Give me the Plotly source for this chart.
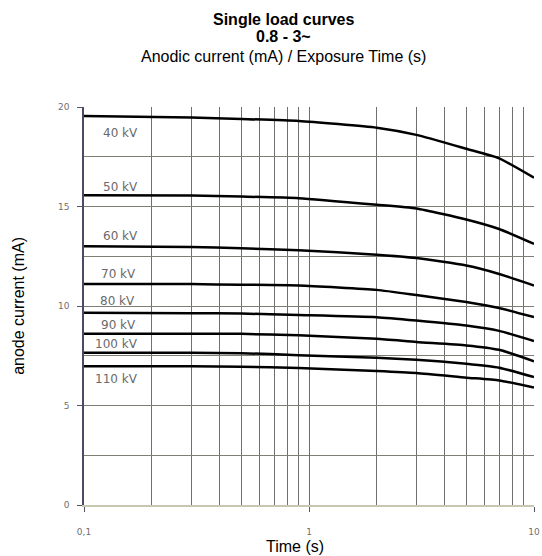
import math
import plotly.graph_objects as go

# ---- data ----
time_s = [0.1, 0.3, 0.5, 0.9, 2, 3, 5, 7, 10]
kv_labels = ["40 kV", "50 kV", "60 kV", "70 kV", "80 kV", "90 kV", "100 kV", "110 kV"]
curve_40 = [19.55, 19.47, 19.40, 19.30, 18.96, 18.60, 17.90, 17.42, 16.45]
curve_50 = [15.57, 15.55, 15.50, 15.42, 15.09, 14.90, 14.35, 13.87, 13.12]
curve_60 = [13.00, 12.97, 12.90, 12.80, 12.58, 12.41, 12.03, 11.61, 11.03]
curve_70 = [11.11, 11.10, 11.07, 11.03, 10.81, 10.55, 10.20, 9.90, 9.44]
curve_80 = [9.66, 9.64, 9.62, 9.55, 9.44, 9.27, 9.02, 8.75, 8.24]
curve_90 = [8.60, 8.60, 8.60, 8.53, 8.35, 8.19, 8.02, 7.80, 7.22]
curve_100 = [7.65, 7.65, 7.63, 7.53, 7.40, 7.30, 7.10, 6.90, 6.43]
curve_110 = [6.97, 6.97, 6.95, 6.88, 6.73, 6.63, 6.40, 6.26, 5.90]
curves = [curve_40, curve_50, curve_60, curve_70, curve_80, curve_90, curve_100, curve_110]
label_y = [18.7, 16.0, 13.5, 11.6, 10.25, 9.07, 8.11, 6.31]
label_x = [0.145, 0.145, 0.145, 0.143, 0.141, 0.143, 0.139, 0.139]
x_tickvals = [0.1, 1, 10]
x_ticktext = ["0,1", "1", "10"]
y_tickvals = [0, 5, 10, 15, 20]

fig = go.Figure()
for name, ys in zip(kv_labels, curves):
    fig.add_trace(go.Scatter(x=time_s, y=ys, mode="lines", name=name,
                             line=dict(color="black", width=2.5, shape="spline", smoothing=0.5),
                             showlegend=False, hoverinfo="skip"))

for name, lx, ly in zip(kv_labels, label_x, label_y):
    fig.add_annotation(x=math.log10(lx), y=ly, xref="x", yref="y", text=name, showarrow=False,
                       font=dict(family="DejaVu Sans", size=12, color="#6a6a6a"),
                       xanchor="center", yanchor="middle")

tick_font = dict(family="DejaVu Sans", size=9, color="#707070")

fig.update_xaxes(type="log", range=[-1, 1], automargin=False,
                 tickvals=x_tickvals, ticktext=x_ticktext,
                 ticks="outside", ticklen=5, tickcolor="#555566",
                 ticklabelstandoff=12, tickfont=tick_font,
                 showgrid=True, gridcolor="#6c6c72", gridwidth=1,
                 minor=dict(dtick="D1", showgrid=True, gridcolor="#707074", gridwidth=1, ticks=""),
                 showline=True, linecolor="#c8c8b0", linewidth=2,
                 zeroline=False)
fig.update_yaxes(range=[0, 20], tickvals=y_tickvals, automargin=False,
                 ticks="outside", ticklen=5, tickcolor="#555566",
                 ticklabelstandoff=6, tickfont=tick_font,
                 showgrid=True, gridcolor="#7e7e72", gridwidth=1,
                 minor=dict(dtick=2.5, showgrid=True, gridcolor="#7e7e72", gridwidth=1, ticks=""),
                 showline=True, linecolor="#4a4a66", linewidth=1.5,
                 zeroline=False)

title_font = dict(family="Liberation Sans", size=16, color="black")
fig.add_annotation(x=0.444, y=1.221, xref="paper", yref="paper", text="<b>Single load curves</b>",
                   showarrow=False, font=title_font, xanchor="center", yanchor="middle")
fig.add_annotation(x=0.444, y=1.176, xref="paper", yref="paper", text="<b>0.8 - 3~</b>",
                   showarrow=False, font=title_font, xanchor="center", yanchor="middle")
fig.add_annotation(x=0.444, y=1.126, xref="paper", yref="paper", text="Anodic current (mA) / Exposure Time (s)",
                   showarrow=False, font=title_font, xanchor="center", yanchor="middle")
fig.add_annotation(x=-0.147, y=0.5, xref="paper", yref="paper", text="anode current (mA)",
                   showarrow=False, font=title_font, textangle=-90, xanchor="center", yanchor="middle")
fig.add_annotation(x=0.469, y=-0.104, xref="paper", yref="paper", text="Time (s)",
                   showarrow=False, font=title_font, xanchor="center", yanchor="middle")

fig.update_layout(width=542, height=556,
                  margin=dict(l=84, r=8, t=107, b=51),
                  paper_bgcolor="white", plot_bgcolor="white")

# remove the default page margin so the figure fills the window exactly
fig.write_html("out.html",
               config={"displayModeBar": False},
               post_script="document.body.style.margin='0';"
                           "document.documentElement.style.overflow='hidden';"
                           "document.body.style.overflow='hidden';")
